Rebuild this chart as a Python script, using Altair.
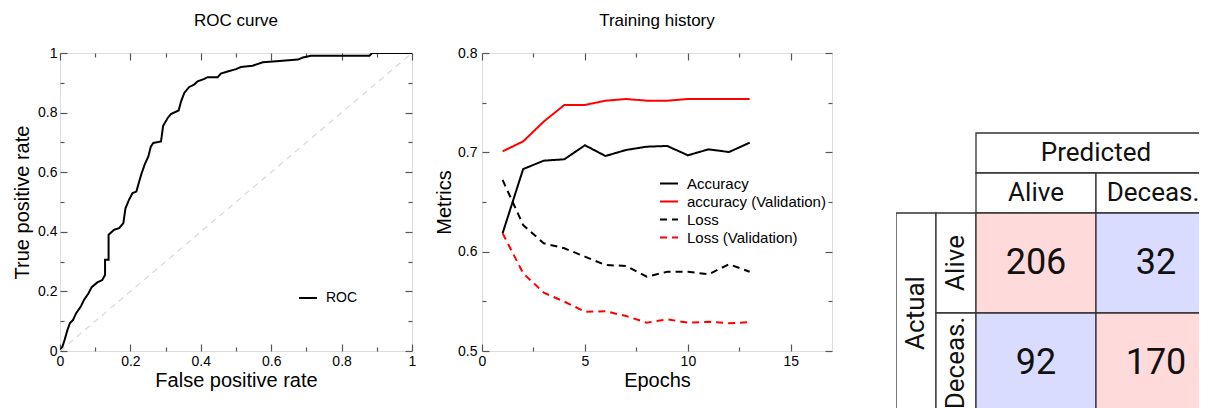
import altair as alt
import pandas as pd

FONT = "Liberation Sans"
CM_FONT = "Roboto"

# ---------------- ROC curve ----------------
roc_fpr = [0.0, 0.007, 0.013, 0.021, 0.028, 0.037, 0.046, 0.059, 0.068, 0.081, 0.09, 0.106,
           0.12, 0.128, 0.128, 0.138, 0.138, 0.154, 0.168, 0.18, 0.186, 0.196, 0.206, 0.217,
           0.225, 0.232, 0.242, 0.251, 0.258, 0.265, 0.287, 0.293, 0.306, 0.315, 0.337, 0.344,
           0.353, 0.367, 0.381, 0.391, 0.41, 0.419, 0.448, 0.457, 0.476, 0.5, 0.514, 0.547,
           0.576, 0.614, 0.676, 0.69, 0.713, 0.879, 0.887, 1.0]
roc_tpr = [0.0, 0.015, 0.037, 0.07, 0.093, 0.104, 0.127, 0.149, 0.171, 0.194, 0.214, 0.23,
           0.238, 0.255, 0.306, 0.306, 0.39, 0.407, 0.412, 0.429, 0.479, 0.507, 0.53, 0.535,
           0.569, 0.597, 0.63, 0.653, 0.686, 0.698, 0.703, 0.756, 0.782, 0.795, 0.807, 0.838,
           0.866, 0.886, 0.894, 0.905, 0.913, 0.919, 0.919, 0.931, 0.938, 0.946, 0.953, 0.957,
           0.969, 0.972, 0.978, 0.985, 0.991, 0.991, 1.0, 1.0]
diag = [0.0, 1.0]

# ---------------- Training history ----------------
epochs = list(range(1, 14))
acc = [0.6185, 0.6832, 0.6916, 0.693, 0.7071, 0.6963, 0.7024, 0.7057, 0.7064, 0.697, 0.703, 0.7003, 0.7097]
val_acc = [0.701, 0.711, 0.731, 0.7477, 0.7477, 0.752, 0.7537, 0.752, 0.752, 0.7537, 0.7537, 0.7537, 0.7537]
loss = [0.6722, 0.6268, 0.6084, 0.6034, 0.595, 0.5866, 0.5856, 0.5748, 0.5798, 0.5798, 0.5772, 0.5873, 0.5798]
val_loss = [0.6185, 0.5782, 0.5587, 0.5497, 0.5396, 0.54, 0.5352, 0.5285, 0.5319, 0.5285, 0.5295, 0.5279, 0.529]
series_names = ["Accuracy", "accuracy (Validation)", "Loss", "Loss (Validation)"]
series_values = [acc, val_acc, loss, val_loss]

# ---------------- Confusion matrix ----------------
cm_labels = ["Alive", "Deceas."]
cm_counts = [[206, 32], [92, 170]]

LABEL_GRAY = "#555"
W1, W2, W3 = 352, 350, 303
GAP12, GAP23 = 70, 64
UNIT = 40.0  # px per table grid unit


def axis(orient, values, size, labels=False, title=None, fmt=None, title_pad=4, label_pad=3):
    d = dict(orient=orient, values=values, tickSize=size, offset=-size, domain=False,
             grid=False, labels=labels, ticks=True, tickColor=LABEL_GRAY, tickWidth=1.2)
    if labels:
        d.update(labelFontSize=14, labelPadding=label_pad, labelColor="black", labelFont=FONT,
                 labelFlush=False, labelOverlap=False)
        if fmt:
            d["format"] = fmt
    if title:
        d.update(title=title, titleFontSize=20, titleFont=FONT, titleFontWeight="normal",
                 titleColor="black", titlePadding=title_pad)
    else:
        d["title"] = None
    return alt.Axis(**d)


def line_legend(x, y, size, row_pad=2):
    return alt.Legend(orient="none", legendX=x, legendY=y, title=None,
                      symbolType="stroke", symbolSize=324, symbolStrokeWidth=2,
                      labelFontSize=size, labelFont=FONT, labelColor="black",
                      labelOffset=8, padding=0, rowPadding=row_pad)


# ROC panel
roc_df = pd.DataFrame({"fpr": roc_fpr, "tpr": roc_tpr, "i": range(len(roc_fpr)), "name": "ROC"})
diag_df = pd.DataFrame({"fpr": diag, "tpr": diag})
sx = alt.Scale(domain=[0, 1], nice=False, zero=False)
sy = alt.Scale(domain=[0, 1], nice=False, zero=False)
maj = [0, 0.2, 0.4, 0.6, 0.8, 1.0]
mnr = [0.1, 0.3, 0.5, 0.7, 0.9]

roc_line = alt.Chart(roc_df).mark_line(strokeWidth=2, clip=True).encode(
    x=alt.X("fpr:Q", scale=sx, axis=axis("bottom", maj, 7, True, "False positive rate", ".1~f", 2)),
    y=alt.Y("tpr:Q", scale=sy, axis=axis("left", maj, 7, True, "True positive rate", ".1~f", 5)),
    order=alt.Order("i:Q"),
    color=alt.Color("name:N", scale=alt.Scale(domain=["ROC"], range=["black"]),
                    legend=line_legend(238, 235, 14)),
)
roc_diag = alt.Chart(diag_df).mark_line(strokeWidth=1.2, color="#d8d8d8", strokeDash=[6, 5]).encode(
    x=alt.X("fpr:Q", scale=sx, axis=axis("top", maj, 7)),
    y=alt.Y("tpr:Q", scale=sy, axis=axis("right", maj, 7)),
)
roc_m1 = alt.Chart(diag_df).mark_line(opacity=0).encode(
    x=alt.X("fpr:Q", scale=sx, axis=axis("bottom", mnr, 4)),
    y=alt.Y("tpr:Q", scale=sy, axis=axis("left", mnr, 4)),
)
roc_m2 = alt.Chart(diag_df).mark_line(opacity=0).encode(
    x=alt.X("fpr:Q", scale=sx, axis=axis("top", mnr, 4)),
    y=alt.Y("tpr:Q", scale=sy, axis=axis("right", mnr, 4)),
)
roc = alt.layer(roc_line, roc_diag, roc_m1, roc_m2).resolve_axis(
    x="independent", y="independent"
).properties(
    width=W1, height=298,
    title=alt.Title("ROC curve", fontSize=17, font=FONT, fontWeight="normal", color="black", offset=16),
)

# Training panel
rows = []
for name, vals in zip(series_names, series_values):
    for e, v in zip(epochs, vals):
        rows.append({"epoch": e, "value": v, "series": name})
hist_df = pd.DataFrame(rows)
tx = alt.Scale(domain=[0, 17], nice=False, zero=False)
ty = alt.Scale(domain=[0.5, 0.8], nice=False, zero=False)
tx_maj = [0, 5, 10, 15]
tx_mnr = [2.5, 7.5, 12.5]
ty_maj = [0.5, 0.6, 0.7, 0.8]
ty_mnr = [0.55, 0.65, 0.75]

hist_leg = line_legend(177, 120.5, 15, 0)
hist_lines = alt.Chart(hist_df).mark_line(strokeWidth=2).encode(
    x=alt.X("epoch:Q", scale=tx, axis=axis("bottom", tx_maj, 7, True, "Epochs", "d", 2)),
    y=alt.Y("value:Q", scale=ty, axis=axis("left", ty_maj, 7, True, "Metrics", ".1f", 3, 5)),
    color=alt.Color("series:N", scale=alt.Scale(domain=series_names, range=["black", "red", "black", "red"]),
                    legend=hist_leg),
    strokeDash=alt.StrokeDash("series:N", scale=alt.Scale(domain=series_names,
                                                          range=[[1, 0], [1, 0], [7, 5], [7, 5]]),
                              legend=hist_leg),
)
hist_m0 = alt.Chart(hist_df).mark_line(opacity=0).encode(
    x=alt.X("epoch:Q", scale=tx, axis=axis("top", tx_maj, 7)),
    y=alt.Y("value:Q", scale=ty, axis=axis("right", ty_maj, 7)),
    detail="series:N",
)
hist_m1 = alt.Chart(hist_df).mark_line(opacity=0).encode(
    x=alt.X("epoch:Q", scale=tx, axis=axis("bottom", tx_mnr, 4)),
    y=alt.Y("value:Q", scale=ty, axis=axis("left", ty_mnr, 4)),
    detail="series:N",
)
hist_m2 = alt.Chart(hist_df).mark_line(opacity=0).encode(
    x=alt.X("epoch:Q", scale=tx, axis=axis("top", tx_mnr, 4)),
    y=alt.Y("value:Q", scale=ty, axis=axis("right", ty_mnr, 4)),
    detail="series:N",
)
hist = alt.layer(hist_lines, hist_m0, hist_m1, hist_m2).resolve_axis(
    x="independent", y="independent"
).properties(
    width=W2, height=298,
    title=alt.Title("Training history", fontSize=17, font=FONT, fontWeight="normal", color="black", offset=16),
)

# Confusion matrix panel (grid units: label columns 1 wide, value columns 3 wide;
# header rows 1 high, value rows 2.5 high)
n = len(cm_labels)
LW, CW, HH, RH = 1.0, 3.0, 1.0, 2.5
x0 = 2 * LW
y0 = 2 * HH
cells, texts_h, texts_v, texts_n = [], [], [], []
cells.append(dict(x=x0, x2=x0 + n * CW, y=0, y2=HH, fill="white"))
texts_h.append(dict(x=x0 + n * CW / 2, y=HH / 2, t="Predicted", edge=False))
cells.append(dict(x=0, x2=LW, y=y0, y2=y0 + n * RH, fill="white"))
texts_v.append(dict(x=LW / 2, y=y0 + n * RH / 2, t="Actual"))
for j, lab in enumerate(cm_labels):
    cells.append(dict(x=x0 + j * CW, x2=x0 + (j + 1) * CW, y=HH, y2=2 * HH, fill="white"))
    texts_h.append(dict(x=x0 + (j + 0.5) * CW, y=1.5 * HH, t=lab, edge=(j == n - 1)))
for i, lab in enumerate(cm_labels):
    cells.append(dict(x=LW, x2=2 * LW, y=y0 + i * RH, y2=y0 + (i + 1) * RH, fill="white"))
    texts_v.append(dict(x=1.5 * LW, y=y0 + (i + 0.5) * RH, t=lab))
    for j in range(n):
        cells.append(dict(x=x0 + j * CW, x2=x0 + (j + 1) * CW, y=y0 + i * RH, y2=y0 + (i + 1) * RH,
                          fill="#ffdada" if i == j else "#dadcff"))
        texts_n.append(dict(x=x0 + (j + 0.5) * CW, y=y0 + (i + 0.5) * RH, t=str(cm_counts[i][j])))

H3 = 355
cx = alt.Scale(domain=[0, W3 / UNIT], nice=False, zero=False)
cy = alt.Scale(domain=[-2, H3 / UNIT - 2], nice=False, zero=False, reverse=True)

cm_rect = alt.Chart(pd.DataFrame(cells)).mark_rect(stroke="#333", strokeWidth=1.3, clip=True).encode(
    x=alt.X("x:Q", scale=cx, axis=None), x2="x2:Q",
    y=alt.Y("y:Q", scale=cy, axis=None), y2="y2:Q",
    fill=alt.Fill("fill:N", scale=None),
)
th_df = pd.DataFrame(texts_h)
cm_th = alt.Chart(th_df).transform_filter("!datum.edge").mark_text(
    font=CM_FONT, fontSize=26, color="#111", clip=True).encode(
    x=alt.X("x:Q", scale=cx, axis=None), y=alt.Y("y:Q", scale=cy, axis=None), text="t:N")
# the last column is cut by the window edge: nudge its header so the word stays whole
cm_th_edge = alt.Chart(th_df).transform_filter("datum.edge").mark_text(
    font=CM_FONT, fontSize=26, color="#111", dx=-3, clip=True).encode(
    x=alt.X("x:Q", scale=cx, axis=None), y=alt.Y("y:Q", scale=cy, axis=None), text="t:N")
cm_tv = alt.Chart(pd.DataFrame(texts_v)).mark_text(font=CM_FONT, fontSize=26, color="#111", angle=270, clip=True).encode(
    x=alt.X("x:Q", scale=cx, axis=None), y=alt.Y("y:Q", scale=cy, axis=None), text="t:N")
cm_tn = alt.Chart(pd.DataFrame(texts_n)).mark_text(font=CM_FONT, fontSize=36, color="#111", clip=True).encode(
    x=alt.X("x:Q", scale=cx, axis=None), y=alt.Y("y:Q", scale=cy, axis=None), text="t:N")
cm = alt.layer(cm_rect, cm_th, cm_th_edge, cm_tv, cm_tn).properties(
    width=W3, height=H3, view=alt.ViewBackground(stroke="transparent"))

left = alt.hconcat(roc, hist, spacing=GAP12, bounds="flush").resolve_scale(
    color="independent", strokeDash="independent").resolve_legend(
    color="independent", strokeDash="independent")
# a nested concat counts as zero-width under flush bounds, so the gap spans the left pair
chart = alt.hconcat(left, cm, spacing=W1 + GAP12 + W2 + GAP23, bounds="flush").resolve_scale(
    color="independent", strokeDash="independent").resolve_legend(
    color="independent", strokeDash="independent").properties(
    padding={"left": 4, "top": 3, "right": 0, "bottom": 0}
).configure_view(stroke=LABEL_GRAY, strokeWidth=1.5).configure(font=FONT)

chart.save("out.html", embed_options={"renderer": "svg", "actions": False})
